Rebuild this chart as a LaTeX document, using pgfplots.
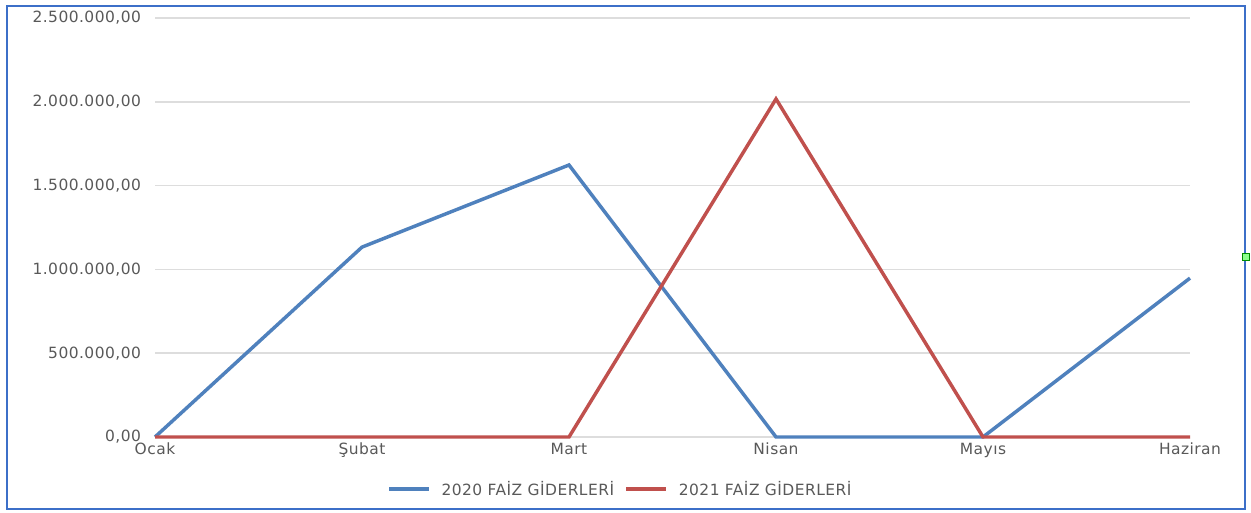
\documentclass[border=0pt]{standalone}
\usepackage{pgfplots}
\pgfplotsset{compat=1.18}
\usepackage{fontspec}
\setmainfont{DejaVu Sans}[LetterSpace=3]
\definecolor{s1}{HTML}{4F81BD}
\definecolor{s2}{HTML}{C0504D}
\definecolor{txt}{HTML}{595959}
\definecolor{grd}{HTML}{DDDDDD}
\definecolor{frm}{HTML}{3C6FC8}
\begin{document}
\begin{tikzpicture}
\path[use as bounding box] (0,0) rectangle (938.25pt,384pt);
\fill[white] (0,0) rectangle (938.25pt,384pt);
\draw[frm, line width=1.2pt] (5.25pt,2.25pt) rectangle (933.75pt,379.5pt);
\begin{axis}[
  at={(116.25pt,56.25pt)}, anchor=south west,
  scale only axis, width=776.25pt, height=314.25pt,
  xmin=0, xmax=5, ymin=0, ymax=2500000,
  xtick={0,1,2,3,4,5},
  xticklabels={Ocak,Şubat,Mart,Nisan,Mayıs,Haziran},
  ytick={0,500000,1000000,1500000,2000000,2500000},
  scaled y ticks=false,
  yticklabel style={/pgf/number format/fixed, /pgf/number format/fixed zerofill, /pgf/number format/precision=2, /pgf/number format/1000 sep={.}, /pgf/number format/use comma, /pgf/number format/assume math mode=true, xshift=-7pt},
  axis line style={draw=none},
  major tick length=0pt,
  ymajorgrids, grid style={grd, line width=1.2pt},
  tick label style={font=\fontsize{11.6}{13}\selectfont, text=txt},
  xticklabel style={yshift=-1pt},
  clip=false,
  legend style={draw=none, fill=none, at={(0.45,-0.124)}, anchor=center, font=\fontsize{11.6}{13}\selectfont, text=txt, legend columns=2, column sep=6pt},
  legend image code/.code={\draw[#1] (0pt,0pt) -- (30pt,0pt);},
]
\addplot[s1, line width=2.6pt] coordinates {(0,0) (1,1133000) (2,1623000) (3,0) (4,0) (5,948000)};
\addlegendentry{2020 FAİZ GİDERLERİ}
\addplot[s2, line width=2.6pt] coordinates {(0,0) (1,0) (2,0) (3,2017000) (4,0) (5,0)};
\addlegendentry{2021 FAİZ GİDERLERİ}
\end{axis}
\filldraw[draw=green!55!black, fill=green!45!white, line width=0.6pt] (931.8pt,188.5pt) rectangle (936.8pt,194pt);
\end{tikzpicture}
\end{document}
